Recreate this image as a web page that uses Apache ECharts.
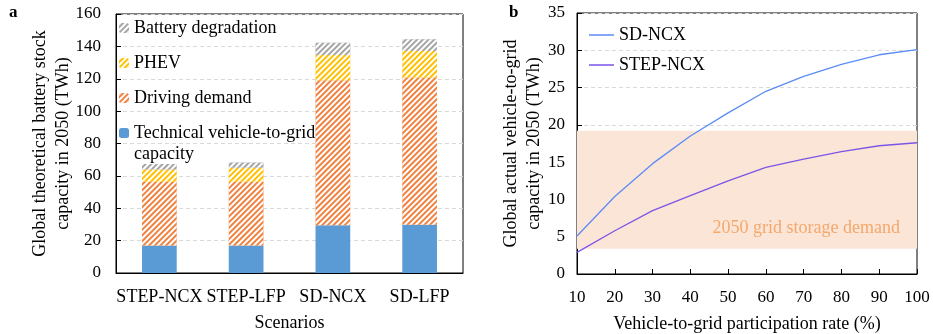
<!DOCTYPE html>
<html><head><meta charset="utf-8">
<script src="https://cdn.jsdelivr.net/npm/echarts@6/dist/echarts.min.js"></script>
<style>html,body{margin:0;padding:0;background:#fff}#c{width:933px;height:334px}</style>
</head><body><div id="c"></div>
<script>
// Panel a data
const scenarios = ['STEP-NCX', 'STEP-LFP', 'SD-NCX', 'SD-LFP'];
const v2gCapacity = [17.0, 17.0, 29.5, 29.8];
const drivingDemand = [39.4, 39.4, 89.6, 91.0];
const phev = [7.6, 8.6, 15.5, 16.4];
const batteryDegradation = [3.3, 3.3, 7.6, 7.2];
const leftYTicks = [0, 160, 20];

// Panel b data
const participationRate = [10, 20, 30, 40, 50, 60, 70, 80, 90, 100];
const sdNcx = [5.1, 10.4, 14.8, 18.5, 21.6, 24.5, 26.5, 28.1, 29.4, 30.1];
const stepNcx = [2.9, 5.8, 8.5, 10.5, 12.5, 14.3, 15.4, 16.4, 17.2, 17.6];
const gridStorageDemand = [3.4, 19.2];

const FONT = 'Liberation Serif';
const FS = 18;   // text size
const TS = 17;   // tick size
const chart = echarts.init(document.getElementById('c'), null, {renderer: 'canvas'});

function hatch(base) {
  return {
    color: base,
    decal: {symbol: 'rect', symbolSize: 1, dashArrayX: [1, 0], dashArrayY: [2, 2], rotation: -Math.PI / 4, color: '#ffffff'}
  };
}

const barW = '40%';
const option = {
  animation: false,
  textStyle: {fontFamily: FONT},
  graphic: [
    {type: 'text', left: 9, top: 4, style: {text: 'a', font: 'bold 17px "Liberation Serif"', fill: '#000'}},
    {type: 'text', left: 509, top: 4, style: {text: 'b', font: 'bold 17px "Liberation Serif"', fill: '#000'}},
    {type: 'text', left: 134, top: 145, style: {text: 'capacity', font: FS + 'px "Liberation Serif"', fill: '#000'}}
  ],
  legend: [
    {
      left: 119, top: 18, padding: 0, orient: 'vertical', itemWidth: 10, itemHeight: 10, itemGap: 15,
      textStyle: {fontFamily: FONT, fontSize: FS, color: '#000', lineHeight: 20},
      data: ['Battery degradation', 'PHEV', 'Driving demand', 'Technical vehicle-to-grid capacity'],
      formatter: n => n === 'Technical vehicle-to-grid capacity' ? 'Technical vehicle-to-grid' : n
    },
    {
      left: 589, top: 25, padding: 0, orient: 'vertical', itemWidth: 25, itemHeight: 1.5, itemGap: 10,
      textStyle: {fontFamily: FONT, fontSize: FS, color: '#000', lineHeight: 20},
      data: [{name: 'SD-NCX', icon: 'rect'}, {name: 'STEP-NCX', icon: 'rect'}]
    }
  ],
  grid: [
    {left: 116, top: 14, width: 347, height: 259, show: true, borderColor: '#000', borderWidth: 1, containLabel: false, outerBoundsMode: 'none'},
    {left: 577, top: 13, width: 340, height: 261, show: true, borderColor: '#000', borderWidth: 1, containLabel: false, outerBoundsMode: 'none'}
  ],
  xAxis: [
    {
      gridIndex: 0, type: 'category', data: scenarios,
      axisLine: {lineStyle: {color: '#000'}}, axisTick: {show: false},
      axisLabel: {color: '#000', fontSize: FS, fontFamily: FONT, margin: 15, interval: 0},
      name: 'Scenarios', nameLocation: 'middle', nameGap: 41,
      nameTextStyle: {color: '#000', fontSize: FS, fontFamily: FONT}
    },
    {
      gridIndex: 1, type: 'value', min: 10, max: 100, interval: 10,
      axisLine: {lineStyle: {color: '#000'}}, axisTick: {inside: true, length: 5, lineStyle: {color: '#000'}},
      axisLabel: {color: '#000', fontSize: TS, fontFamily: FONT, margin: 15},
      splitLine: {show: false},
      name: 'Vehicle-to-grid participation rate (%)', nameLocation: 'middle', nameGap: 41,
      nameTextStyle: {color: '#000', fontSize: FS, fontFamily: FONT}
    }
  ],
  yAxis: [
    {
      gridIndex: 0, type: 'value', min: leftYTicks[0], max: leftYTicks[1], interval: leftYTicks[2],
      axisLine: {show: true, lineStyle: {color: '#000'}}, axisTick: {show: true, inside: true, length: 5, lineStyle: {color: '#000'}},
      axisLabel: {color: '#000', fontSize: TS, fontFamily: FONT, margin: 15},
      splitLine: {lineStyle: {color: '#d9d9d9', type: [4, 3]}},
      name: 'Global theoretical battery stock\ncapacity in 2050 (TWh)', nameLocation: 'middle', nameGap: 41, nameMoveOverlap: false,
      nameTextStyle: {color: '#000', fontSize: FS, fontFamily: FONT, lineHeight: 23}
    },
    {
      gridIndex: 1, type: 'value', min: 0, max: 35, interval: 5,
      axisLine: {show: true, lineStyle: {color: '#000'}}, axisTick: {show: true, inside: true, length: 5, lineStyle: {color: '#000'}},
      axisLabel: {color: '#000', fontSize: TS, fontFamily: FONT, margin: 12},
      splitLine: {lineStyle: {color: '#d9d9d9', type: [4, 3]}},
      name: 'Global actual vehicle-to-grid\ncapacity in 2050 (TWh)', nameLocation: 'middle', nameGap: 31, nameMoveOverlap: false,
      nameTextStyle: {color: '#000', fontSize: FS, fontFamily: FONT, lineHeight: 23}
    }
  ],
  series: [
    {name: 'Technical vehicle-to-grid capacity', type: 'bar', stack: 'a', xAxisIndex: 0, yAxisIndex: 0, barWidth: barW,
      data: v2gCapacity, itemStyle: {color: '#5b9bd5'}},
    {name: 'Driving demand', type: 'bar', stack: 'a', xAxisIndex: 0, yAxisIndex: 0, barWidth: barW,
      data: drivingDemand, itemStyle: hatch('#ef8240')},
    {name: 'PHEV', type: 'bar', stack: 'a', xAxisIndex: 0, yAxisIndex: 0, barWidth: barW,
      data: phev, itemStyle: hatch('#ffc000')},
    {name: 'Battery degradation', type: 'bar', stack: 'a', xAxisIndex: 0, yAxisIndex: 0, barWidth: barW,
      data: batteryDegradation, itemStyle: hatch('#a5a5a5')},
    {name: 'SD-NCX', type: 'line', xAxisIndex: 1, yAxisIndex: 1, symbol: 'none',
      data: participationRate.map((x, i) => [x, sdNcx[i]]),
      lineStyle: {color: '#5b8cf6', width: 1.3}, itemStyle: {color: '#5b8cf6'}, z: 5,
      markArea: {
        silent: true, itemStyle: {color: '#fbe5d6'},
        label: {show: true, position: 'insideBottomRight', offset: [-12, -6], color: '#f4a86c', fontSize: FS, fontFamily: FONT},
        data: [[{name: '2050 grid storage demand', yAxis: gridStorageDemand[0]}, {yAxis: gridStorageDemand[1]}]]
      }},
    {name: 'STEP-NCX', type: 'line', xAxisIndex: 1, yAxisIndex: 1, symbol: 'none',
      data: participationRate.map((x, i) => [x, stepNcx[i]]),
      lineStyle: {color: '#7b55e8', width: 1.3}, itemStyle: {color: '#7b55e8'}, z: 5}
  ]
};
chart.setOption(option);
</script></body></html>
